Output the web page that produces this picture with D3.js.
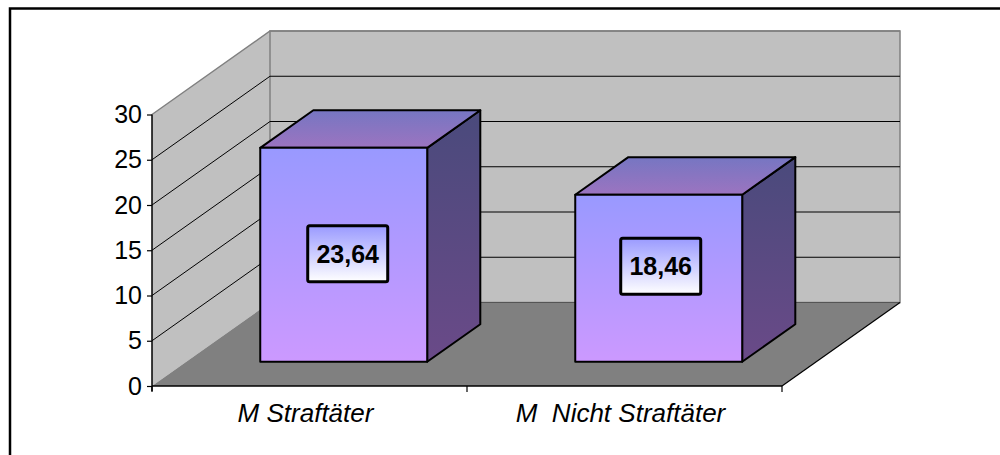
<!DOCTYPE html>
<html>
<head>
<meta charset="utf-8">
<script src="https://cdn.jsdelivr.net/npm/d3@7"></script>
<style>
  html, body { margin: 0; padding: 0; background: #fff; }
  svg { display: block; font-family: "Liberation Sans", Arial, sans-serif; }
</style>
</head>
<body>
<svg id="chart" width="1000" height="455"></svg>
<script>
// Mean values per group
const categories = ["M Straftäter", "M  Nicht Straftäter"];
const values = [23.64, 18.46];
const valueLabels = ["23,64", "18,46"];
const tickValues = [0, 5, 10, 15, 20, 25, 30];
const tickLabels = ["0", "5", "10", "15", "20", "25", "30"];

// Layout of the 3D box
const plot = { left: 152, right: 782, bottom: 386, top: 114.5 };
const depth = { dx: 118, dy: -83.5 };     // full depth of the walls
const barDepth = { front: 0.29, back: 0.74 }; // bar position within the depth
const labelNudge = [{ dx: 4, dy: -1 }, { dx: 2, dy: -12 }];

const svg = d3.select("#chart");

const y = d3.scaleLinear().domain([0, 30]).range([plot.bottom, plot.top]);
const x = d3.scaleBand().domain(categories)
  .range([plot.left, plot.right])
  .paddingInner(0.47).paddingOuter(0.235);

// project (x, value, depth fraction) to screen
const P = (px, v, d) => [px + d * depth.dx, y(v) + d * depth.dy];
const poly = pts => "M" + pts.map(p => p.join(",")).join("L") + "Z";

// gradients
const defs = svg.append("defs");
function grad(id, stops) {
  const g = defs.append("linearGradient").attr("id", id)
    .attr("x1", 0).attr("y1", 0).attr("x2", 0).attr("y2", 1);
  stops.forEach(([o, c]) => g.append("stop").attr("offset", o).attr("stop-color", c));
}
grad("gFront", [[0, "#9999ff"], [1, "#cc99ff"]]);
grad("gTop", [[0, "#7676c2"], [1, "#9c74c0"]]);
grad("gSide", [[0, "#4a4a7c"], [1, "#6a4a88"]]);
grad("gLabel", [[0, "#9a9aff"], [1, "#ffffff"]]);

const yMax = 30;

// walls and floor
svg.append("path")
  .attr("d", poly([P(plot.left, 0, 0), P(plot.left, yMax, 0), P(plot.left, yMax, 1), P(plot.left, 0, 1)]))
  .attr("fill", "#c0c0c0");
svg.append("path")
  .attr("d", poly([P(plot.left, 0, 1), P(plot.left, yMax, 1), P(plot.right, yMax, 1), P(plot.right, 0, 1)]))
  .attr("fill", "#c0c0c0").attr("stroke", "#808080").attr("stroke-width", 1.5);
svg.append("path")
  .attr("d", poly([P(plot.left, 0, 0), P(plot.left, 0, 1), P(plot.right, 0, 1), P(plot.right, 0, 0)]))
  .attr("fill", "#808080");

// gridlines on left and back walls
const inner = tickValues.filter(v => v > 0 && v < yMax);
svg.append("g").selectAll("path").data(inner).join("path")
  .attr("d", v => "M" + P(plot.left, v, 0) + "L" + P(plot.left, v, 1) + "L" + P(plot.right, v, 1))
  .attr("fill", "none").attr("stroke", "#000").attr("stroke-width", 1);
// top edges of the walls
svg.append("path")
  .attr("d", "M" + P(plot.left, yMax, 0) + "L" + P(plot.left, yMax, 1) + "L" + P(plot.right, yMax, 1))
  .attr("fill", "none").attr("stroke", "#808080").attr("stroke-width", 1.5);
// floor back edge and right edge
svg.append("path")
  .attr("d", "M" + P(plot.left, 0, 1) + "L" + P(plot.right, 0, 1))
  .attr("stroke", "#555").attr("stroke-width", 1);
svg.append("path")
  .attr("d", "M" + P(plot.right, 0, 0) + "L" + P(plot.right, 0, 1))
  .attr("stroke", "#000").attr("stroke-width", 1.2);

// bars
const bars = svg.append("g").selectAll("g").data(categories).join("g");
bars.each(function (c, i) {
  const g = d3.select(this);
  const v = values[i];
  const xl = x(c), xr = x(c) + x.bandwidth();
  const f = barDepth.front, b = barDepth.back;
  g.append("path")
    .attr("d", poly([P(xr, 0, f), P(xr, v, f), P(xr, v, b), P(xr, 0, b)]))
    .attr("fill", "url(#gSide)").attr("stroke", "#000").attr("stroke-width", 2).attr("stroke-linejoin", "round");
  g.append("path")
    .attr("d", poly([P(xl, v, f), P(xl, v, b), P(xr, v, b), P(xr, v, f)]))
    .attr("fill", "url(#gTop)").attr("stroke", "#000").attr("stroke-width", 2).attr("stroke-linejoin", "round");
  g.append("path")
    .attr("d", poly([P(xl, 0, f), P(xl, v, f), P(xr, v, f), P(xr, 0, f)]))
    .attr("fill", "url(#gFront)").attr("stroke", "#000").attr("stroke-width", 2).attr("stroke-linejoin", "round");

  // value label box on the front face
  const cx = (P(xl, 0, f)[0] + P(xr, 0, f)[0]) / 2 + labelNudge[i].dx;
  const cy = (P(xl, 0, f)[1] + P(xl, v, f)[1]) / 2 + labelNudge[i].dy;
  g.append("rect")
    .attr("x", cx - 40).attr("y", cy - 28).attr("width", 80).attr("height", 56)
    .attr("rx", 2).attr("fill", "url(#gLabel)").attr("stroke", "#000").attr("stroke-width", 3);
  g.append("text")
    .attr("x", cx).attr("y", cy + 9)
    .attr("text-anchor", "middle")
    .attr("font-size", 25).attr("font-weight", "bold").attr("fill", "#000")
    .text(valueLabels[i]);
});

// value axis
const yAxis = svg.append("g")
  .attr("transform", `translate(${plot.left},0)`)
  .call(d3.axisLeft(y).tickValues(tickValues).tickSize(5).tickPadding(5)
    .tickFormat((d, i) => tickLabels[i]));
yAxis.select(".domain").attr("stroke", "#000").attr("stroke-width", 1.5).attr("d", `M0,${plot.bottom + 5}V${plot.top}`);
yAxis.selectAll(".tick line").attr("stroke", "#000").attr("stroke-width", 1.2);
yAxis.selectAll(".tick text")
  .attr("font-size", 25).attr("font-family", "Liberation Sans, Arial, sans-serif").attr("fill", "#000");

// category axis
const xAxis = svg.append("g")
  .attr("transform", `translate(0,${plot.bottom})`)
  .call(d3.axisBottom(x).tickSize(0).tickPadding(0));
xAxis.select(".domain").attr("stroke", "#000").attr("stroke-width", 1.5).attr("d", `M${plot.left},0H${plot.right}`);
xAxis.selectAll(".tick text")
  .attr("font-size", 26).attr("font-style", "italic")
  .attr("font-family", "Liberation Sans, Arial, sans-serif").attr("fill", "#000")
  .attr("dy", null).attr("y", 36).attr("dx", -4)
  .style("white-space", "pre");
// category boundary ticks
const bounds = [plot.left].concat(categories.map(c => x(c) + x.bandwidth() + x.step() * x.paddingInner() / 2));
bounds[bounds.length - 1] = plot.right;
xAxis.selectAll("line.bound").data(bounds).join("line").attr("class", "bound")
  .attr("x1", d => d).attr("x2", d => d).attr("y1", 0).attr("y2", 6)
  .attr("stroke", "#000").attr("stroke-width", 1.2);

// outer frame
svg.append("rect")
  .attr("x", 10).attr("y", 8.5).attr("width", 1200).attr("height", 700)
  .attr("fill", "none").attr("stroke", "#000").attr("stroke-width", 2.5);
</script>
</body>
</html>
